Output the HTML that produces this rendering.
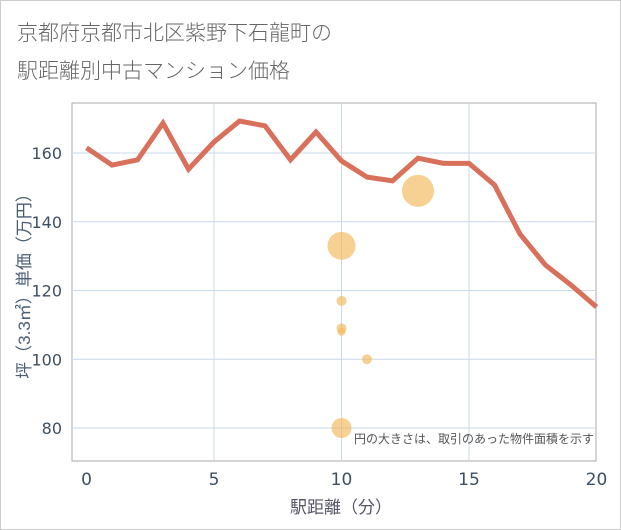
<!DOCTYPE html>
<html><head><meta charset="utf-8"><style>
body{margin:0;background:#fff;}
svg{display:block;font-family:"Liberation Sans","Noto Sans CJK JP",sans-serif;}
</style></head><body>
<svg id="c" width="621" height="530">
<rect x="0.5" y="0.5" width="620" height="529" fill="#fff" stroke="#ccc"/>
<text x="17" y="40" font-size="21" fill="#666" font-family="Noto Sans CJK JP, sans-serif" font-weight="300">京都府京都市北区紫野下石龍町の</text>
<text x="17" y="78" font-size="21" fill="#666" font-family="Noto Sans CJK JP, sans-serif" font-weight="300">駅距離別中古マンション価格</text>
<rect x="72" y="103" width="524" height="358" fill="#fff" stroke="#aaa"/>
<g id="grid"></g><g id="ticks"></g><g id="series"></g><g id="bubbles"></g>
<text x="594" y="443" font-size="12" fill="#555" text-anchor="end">円の大きさは、取引のあった物件面積を示す</text>
<text x="341" y="513" font-size="17" fill="#556" text-anchor="middle">駅距離（分）</text>
<text transform="translate(30,282) rotate(-90)" font-size="17" fill="#4a5e75" text-anchor="middle">坪（3.3㎡）単価（万円）</text>
</svg>
<script>
const xTicks=[0,5,10,15,20];
const yTicks=[80,100,120,140,160];
const lineX=[0,1,2,3,4,5,6,7,8,9,10,11,12,13,14,15,16,17,18,19,20];
const lineY=[161.5,156.5,158,168.7,155.3,163.2,169.3,167.9,158,166.1,157.7,153,151.9,158.5,157,157,150.7,136.4,127.4,121.6,115.2];
const bubbleX=[13,10,10,10,10,11,10];
const bubbleY=[149,133,117,109,108,100,80];
const bubbleR=[16,14,5,5,4,5,10];
const NS="http://www.w3.org/2000/svg";
const sx=v=>86.5+v*25.5;
const sy=v=>153-(v-160)*3.4375;
const g=document.getElementById('grid'),t=document.getElementById('ticks'),s=document.getElementById('series'),b=document.getElementById('bubbles');
function mk(tag,at,p){const e=document.createElementNS(NS,tag);for(const k in at)e.setAttribute(k,at[k]);p.appendChild(e);return e;}
xTicks.forEach(v=>{
 if(v>0&&v<20){const l=mk('line',{x1:sx(v),x2:sx(v),y1:103,y2:461,stroke:'#c9d9ea'},g);
 
 }
 const tx=mk('text',{x:sx(v),y:485,'font-size':17,fill:'#3d4f63','text-anchor':'middle','font-family':'DejaVu Sans, sans-serif'},t);tx.textContent=v;
 
 
});
yTicks.forEach(v=>{
 const l=mk('line',{x1:72,x2:596,y1:sy(v),y2:sy(v),stroke:'#c9d9ea'},g);
 
 
 const tx=mk('text',{x:62,y:sy(v)+6,'font-size':16,fill:'#3d4f63','text-anchor':'end','font-family':'DejaVu Sans, sans-serif'},t);tx.textContent=v;
 
 
});
const pl=mk('polyline',{points:lineX.map((x,i)=>sx(x)+','+sy(lineY[i])).join(' '),fill:'none',stroke:'#d9705b','stroke-width':5,'stroke-linejoin':'miter'},s);


bubbleX.forEach((x,i)=>{
 const c=mk('circle',{cx:sx(x),cy:sy(bubbleY[i]),r:bubbleR[i],fill:'#f2b85a','fill-opacity':0.65},b);
 
 
});
</script>
</body></html>
